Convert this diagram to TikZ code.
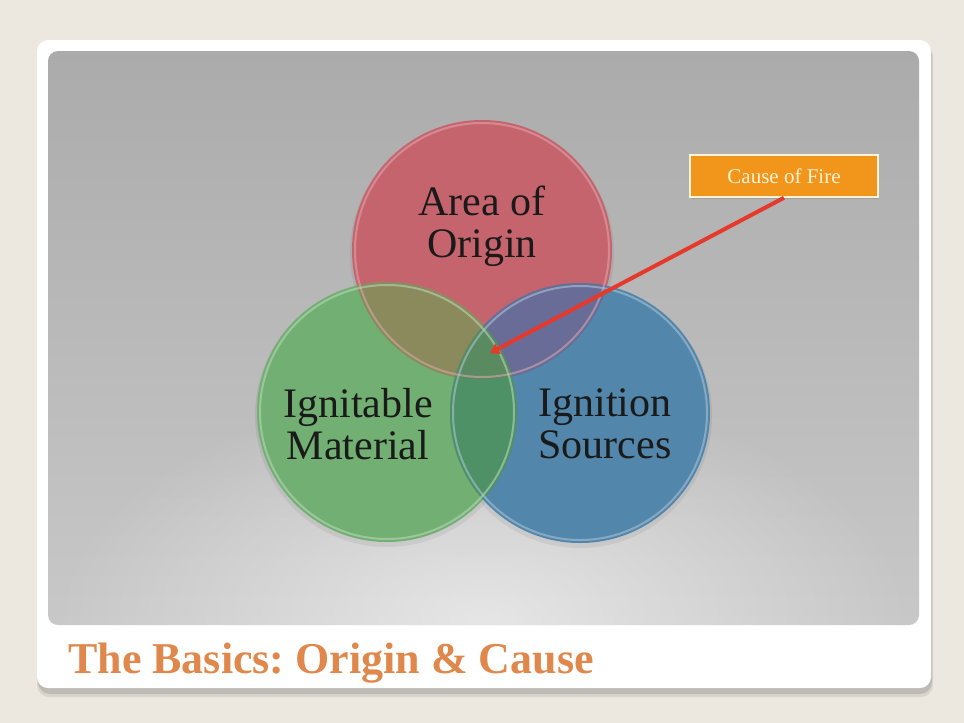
\documentclass[tikz,border=0pt]{standalone}
\usepackage{fontspec}
\setmainfont{Liberation Serif}
\usetikzlibrary{shadows,fadings,arrows.meta}
\definecolor{bgbeige}{HTML}{ECE8E0}
\definecolor{panelgray}{HTML}{ABABAB}
\definecolor{panellight}{HTML}{C8C8C8}
\definecolor{redc}{HTML}{C6646E}
\definecolor{greenc}{HTML}{72AF72}
\definecolor{bluec}{HTML}{5286AA}
\definecolor{rg}{HTML}{8A8A5C}
\definecolor{rb}{HTML}{6A6C98}
\definecolor{gb}{HTML}{4F9166}
\definecolor{rgb}{HTML}{5A8A60}
\definecolor{titleorange}{HTML}{E0884C}
\definecolor{calloutorange}{HTML}{F2961B}
\definecolor{cream}{HTML}{FFF3D8}
\definecolor{arrowred}{HTML}{E5392B}
\definecolor{labeltext}{HTML}{1A1A1A}
\tikzfading[name=glowfade, inner color=transparent!0, outer color=transparent!100]
\tikzset{
  rim/.style={line width=2pt, draw opacity=0.55},
  circlabel/.style={align=center, text=labeltext, font=\fontsize{42}{42}\selectfont, inner sep=0pt},
  callout/.style={draw=cream, line width=1.5pt, fill=calloutorange, text=cream,
    minimum width=188pt, minimum height=42pt, inner sep=0pt,
    font=\fontsize{21}{21}\selectfont,
    drop shadow={shadow xshift=1pt, shadow yshift=-2pt, opacity=0.35}},
  pointer/.style={arrowred, line width=4pt, -{Triangle[length=9pt,width=11pt]}}
}
\frenchspacing
\begin{document}
\begin{tikzpicture}[x=1pt,y=-1pt]
\useasboundingbox (0,0) rectangle (964,723);
\fill[bgbeige] (0,0) rectangle (964,723);
% card shadow
\fill[black, opacity=0.12, rounded corners=12pt] (38,44) rectangle (932,694);
\fill[black, opacity=0.08, rounded corners=12pt] (37,44) rectangle (933,697);
% card
\fill[white, rounded corners=11pt] (37,40) rectangle (931,688);
% panel
\shade[top color=panelgray, bottom color=panellight, rounded corners=10pt] (48,51) rectangle (919,625);
\begin{scope}
  \clip[rounded corners=10pt] (48,51) rectangle (919,625);
  \fill[white, opacity=0.55, path fading=glowfade] (482,620) ellipse (430 and 230);
\end{scope}
% circle centres
\coordinate (cr) at (482,250);
\coordinate (cg) at (387,412);
\coordinate (cb) at (580,413);
% soft shadows
\foreach \c in {cr,cg,cb}{\fill[black, opacity=0.06] ([yshift=-3pt]\c) circle (132);}
% fills
\fill[redc] (cr) circle (130);
\fill[greenc] (cg) circle (130);
\fill[bluec] (cb) circle (130);
\begin{scope}\clip (cr) circle (130); \fill[rg] (cg) circle (130); \fill[rb] (cb) circle (130); \end{scope}
\begin{scope}\clip (cg) circle (130); \fill[gb] (cb) circle (130); \end{scope}
\begin{scope}\clip (cr) circle (130); \clip (cg) circle (130); \fill[rgb] (cb) circle (130); \end{scope}
% rims
\draw[rim, draw=redc!55!white] (cr) circle (127);
\draw[rim, draw=greenc!45!white] (cg) circle (127);
\draw[rim, draw=bluec!45!white] (cb) circle (127);
% labels
\node[circlabel] (area) at (482,226) {Area of\\Origin};
\node[circlabel] (ignitable) at (358,424) {Ignitable\\Material};
\node[circlabel] (ignition) at (605,424) {Ignition\\Sources};
% callout
\node[callout] (cause) at (784,176) {Cause of Fire};
\coordinate (tip) at (490,353);
\draw[pointer] (cause.south) -- (tip);
% title
\node[anchor=base west, inner sep=0pt, text=titleorange, font=\fontsize{44}{44}\selectfont\bfseries] (title) at (68,673) {The Basics: Origin \& Cause};
\end{tikzpicture}
\end{document}
